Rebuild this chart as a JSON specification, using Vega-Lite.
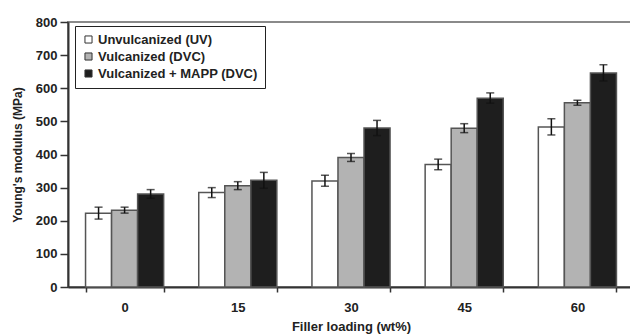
{
  "$schema": "https://vega.github.io/schema/vega-lite/v6.json",
  "width": 566,
  "height": 265,
  "autosize": {"type": "none"},
  "padding": {"left": 68, "top": 22, "right": 0, "bottom": 49},
  "background": "white",
  "config": {
    "view": {"stroke": "#8a8a8a", "strokeWidth": 2},
    "font": "Liberation Sans",
    "axisY": {
      "tickCount": 8,
      "labelOverlap": false,
      "labelFontSize": 13,
      "labelFontWeight": "bold",
      "labelColor": "#222",
      "labelPadding": 3,
      "tickSize": 8,
      "tickColor": "#333",
      "tickWidth": 1.5,
      "domainColor": "#333",
      "domainWidth": 2,
      "grid": false,
      "titleFontSize": 12,
      "titleFontWeight": "bold",
      "titleColor": "#222",
      "titlePadding": 11
    }
  },
  "data": {
    "values": [
      {"load": "0", "series": "Unvulcanized (UV)", "value": 223, "lo": 205, "hi": 241},
      {"load": "0", "series": "Vulcanized (DVC)", "value": 232, "lo": 223, "hi": 241},
      {"load": "0", "series": "Vulcanized + MAPP (DVC)", "value": 281, "lo": 268, "hi": 294},
      {"load": "15", "series": "Unvulcanized (UV)", "value": 285, "lo": 270, "hi": 300},
      {"load": "15", "series": "Vulcanized (DVC)", "value": 306, "lo": 294, "hi": 318},
      {"load": "15", "series": "Vulcanized + MAPP (DVC)", "value": 322, "lo": 298, "hi": 346},
      {"load": "30", "series": "Unvulcanized (UV)", "value": 320, "lo": 304, "hi": 337},
      {"load": "30", "series": "Vulcanized (DVC)", "value": 391, "lo": 379, "hi": 403},
      {"load": "30", "series": "Vulcanized + MAPP (DVC)", "value": 480, "lo": 457, "hi": 503},
      {"load": "45", "series": "Unvulcanized (UV)", "value": 370, "lo": 354, "hi": 386},
      {"load": "45", "series": "Vulcanized (DVC)", "value": 479, "lo": 466, "hi": 493},
      {"load": "45", "series": "Vulcanized + MAPP (DVC)", "value": 570, "lo": 555, "hi": 586},
      {"load": "60", "series": "Unvulcanized (UV)", "value": 483, "lo": 459, "hi": 508},
      {"load": "60", "series": "Vulcanized (DVC)", "value": 556, "lo": 549, "hi": 564},
      {"load": "60", "series": "Vulcanized + MAPP (DVC)", "value": 646, "lo": 622, "hi": 671}
    ]
  },
  "encoding": {
    "x": {
      "field": "load",
      "type": "ordinal",
      "sort": ["0", "15", "30", "45", "60"],
      "scale": {"paddingInner": 0.31, "paddingOuter": 0.155},
      "axis": {
        "title": "Filler loading (wt%)",
        "titleFontSize": 13,
        "titleFontWeight": "bold",
        "titleColor": "#222",
        "titlePadding": 6,
        "labelAngle": 0,
        "labelFontSize": 13,
        "labelFontWeight": "bold",
        "labelColor": "#222",
        "labelPadding": 9,
        "tickBand": "extent",
        "tickSize": 5,
        "tickColor": "#333",
        "tickWidth": 1.5,
        "domainColor": "#333",
        "domainWidth": 2
      }
    },
    "xOffset": {
      "field": "series",
      "sort": ["Unvulcanized (UV)", "Vulcanized (DVC)", "Vulcanized + MAPP (DVC)"],
      "scale": {"paddingInner": 0, "paddingOuter": 0}
    }
  },
  "layer": [
    {
      "mark": {"type": "bar", "stroke": "#555", "strokeWidth": 1.5},
      "encoding": {
        "y": {
          "field": "value",
          "type": "quantitative",
          "scale": {"domain": [0, 800], "nice": false},
          "axis": {"title": "Young's modulus (MPa)"}
        },
        "fill": {
          "field": "series",
          "type": "nominal",
          "scale": {
            "domain": ["Unvulcanized (UV)", "Vulcanized (DVC)", "Vulcanized + MAPP (DVC)"],
            "range": ["#ffffff", "#b3b3b3", "#1e1e1e"]
          },
          "legend": {
            "title": null,
            "orient": "none",
            "legendX": 7,
            "legendY": 4,
            "strokeColor": "#222",
            "fillColor": "white",
            "padding": 7,
            "symbolType": "square",
            "symbolSize": 50,
            "symbolStrokeColor": "#333",
            "symbolStrokeWidth": 1,
            "labelFontSize": 13,
            "labelFontWeight": "bold",
            "labelColor": "#222",
            "labelOffset": 3,
            "rowPadding": 3
          }
        }
      }
    },
    {
      "mark": {"type": "rule", "color": "#111", "strokeWidth": 1.5},
      "encoding": {
        "y": {"field": "lo", "type": "quantitative"},
        "y2": {"field": "hi"}
      }
    },
    {
      "mark": {"type": "tick", "color": "#111", "thickness": 1.5, "size": 8},
      "encoding": {
        "y": {"field": "lo", "type": "quantitative"}
      }
    },
    {
      "mark": {"type": "tick", "color": "#111", "thickness": 1.5, "size": 8},
      "encoding": {
        "y": {"field": "hi", "type": "quantitative"}
      }
    }
  ]
}
